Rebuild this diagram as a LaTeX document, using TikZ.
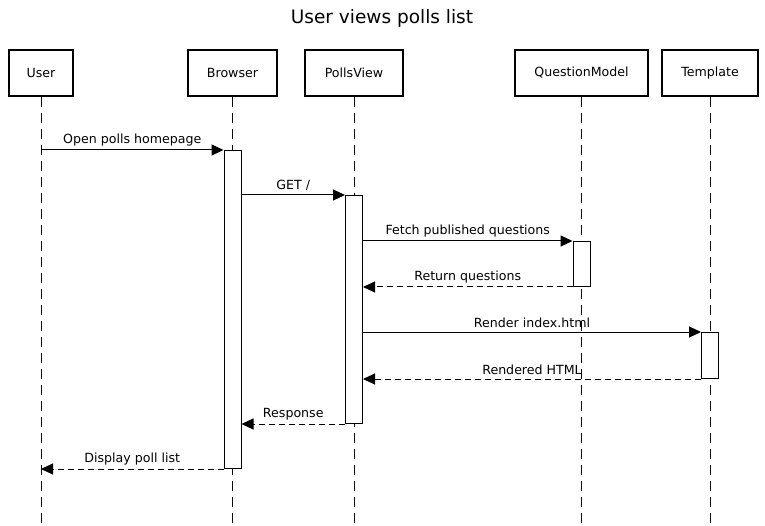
\documentclass[tikz,border=0pt]{standalone}
\usepackage{fontspec}
\setmainfont{DejaVu Sans}
\usetikzlibrary{arrows.meta,positioning,calc}

\begin{document}
\begin{tikzpicture}[
  x=1pt,y=-1pt,
  font=\fontsize{12.6}{15}\selectfont,
  part/.style={draw,line width=1.8pt,minimum height=46pt,inner sep=0pt},
  life/.style={line width=1pt,dash pattern=on 10pt off 6pt},
  act/.style={draw,line width=1pt,fill=white,minimum width=17pt,inner sep=0pt,anchor=north},
  call/.style={-{Triangle[length=12pt,width=11pt]},line width=1pt},
  reply/.style={call,dash pattern=on 6pt off 4pt},
  lbl/.style={midway,above=0pt}
]
\useasboundingbox (0,0) rectangle (765,526);
\coordinate (bottom) at (0,526);

% title
\node (title) at (382,18) {\fontsize{18.5}{22}\selectfont User views polls list};

% participants
\node[part,minimum width=64pt] (user) at (41,73) {User};
\node[part,minimum width=89pt] (browser) at (232.5,73) {Browser};
\node[part,minimum width=98pt] (polls) at (354,73) {PollsView};
\node[part,minimum width=133pt] (question) at (581.5,73) {QuestionModel};
\node[part,minimum width=96pt] (template) at (710,73) {Template};

% lifelines
\foreach \p in {user,browser,polls,question,template}
  \draw[life] (\p.south) -- (\p |- bottom);

% activations
\node[act,minimum height=318pt] (bact) at (browser |- 0,150) {};
\node[act,minimum height=228pt] (pact) at (polls |- 0,195) {};
\node[act,minimum height=45pt] (qact) at (question |- 0,241) {};
\node[act,minimum height=46pt] (tact) at (template |- 0,332) {};

% messages
\draw[call] (user |- bact.north) -- node[lbl] {Open polls homepage} (bact.north west);
\draw[call] (bact.east |- pact.north) -- node[lbl] {GET /} (pact.north west);
\draw[call] (pact.east |- qact.north) -- node[lbl] {Fetch published questions} (qact.north west);
\draw[reply] (qact.south west) -- node[lbl] {Return questions} (pact.east |- qact.south);
\draw[call] (pact.east |- tact.north) -- node[lbl] {Render index.html} (tact.north west);
\draw[reply] (tact.south west) -- node[lbl] {Rendered HTML} (pact.east |- tact.south);
\draw[reply] (pact.south west) -- node[lbl] {Response} (bact.east |- pact.south);
\draw[reply] (bact.south west) -- node[lbl] {Display poll list} (user |- bact.south);
\end{tikzpicture}
\end{document}
